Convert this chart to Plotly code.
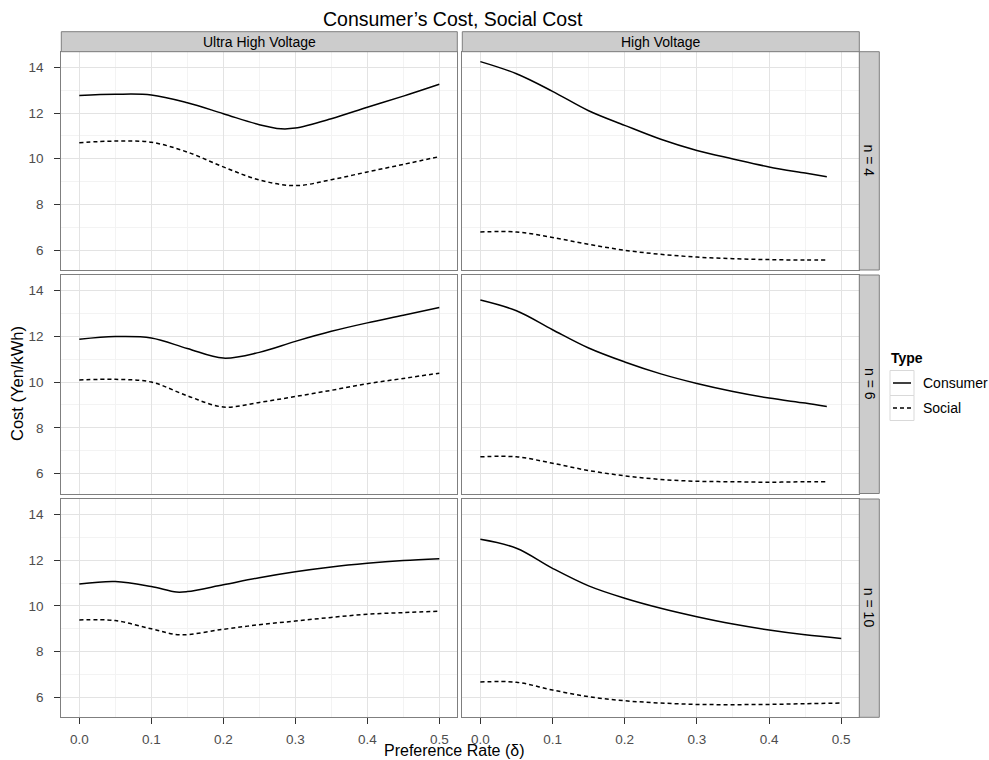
import plotly.graph_objects as go

W, H = 989, 760

# ---------------- data ----------------
voltages = ["Ultra High Voltage", "High Voltage"]
n_labels = ["n = 4", "n = 6", "n = 10"]
types = ["Consumer", "Social"]

x_ticks = [0.0, 0.1, 0.2, 0.3, 0.4, 0.5]
x_tick_text = ["0.0", "0.1", "0.2", "0.3", "0.4", "0.5"]
y_ticks = [6, 8, 10, 12, 14]
y_tick_text = ["6", "8", "10", "12", "14"]

# Ultra High Voltage, n = 4
uhv4_delta_c = [0, 0.05, 0.1, 0.15, 0.2, 0.25, 0.28, 0.3, 0.35, 0.4, 0.45, 0.5]
uhv4_consumer = [12.77, 12.82, 12.79, 12.45, 11.97, 11.49, 11.31, 11.34, 11.75, 12.25, 12.74, 13.26]
uhv4_delta_s = [0, 0.05, 0.1, 0.15, 0.2, 0.25, 0.3, 0.35, 0.4, 0.45, 0.5]
uhv4_social = [10.70, 10.77, 10.72, 10.29, 9.64, 9.07, 8.82, 9.08, 9.42, 9.75, 10.09]

# High Voltage, n = 4
hv4_delta = [0, 0.05, 0.1, 0.15, 0.2, 0.25, 0.3, 0.35, 0.4, 0.45, 0.48]
hv4_consumer = [14.25, 13.72, 12.95, 12.10, 11.46, 10.85, 10.36, 9.99, 9.64, 9.37, 9.21]
hv4_social = [6.79, 6.79, 6.55, 6.25, 5.99, 5.81, 5.69, 5.62, 5.58, 5.56, 5.56]

# Ultra High Voltage, n = 6
uhv6_delta = [0, 0.05, 0.1, 0.15, 0.2, 0.25, 0.3, 0.35, 0.4, 0.45, 0.5]
uhv6_consumer = [11.87, 11.99, 11.93, 11.47, 11.05, 11.30, 11.78, 12.22, 12.59, 12.92, 13.26]
uhv6_social = [10.09, 10.12, 10.00, 9.40, 8.91, 9.11, 9.37, 9.64, 9.93, 10.16, 10.39]

# High Voltage, n = 6
hv6_delta = [0, 0.05, 0.1, 0.15, 0.2, 0.25, 0.3, 0.35, 0.4, 0.45, 0.48]
hv6_consumer = [13.59, 13.12, 12.29, 11.49, 10.88, 10.36, 9.94, 9.59, 9.30, 9.08, 8.93]
hv6_social = [6.73, 6.73, 6.45, 6.13, 5.90, 5.74, 5.66, 5.64, 5.62, 5.64, 5.64]

# Ultra High Voltage, n = 10
uhv10_delta_c = [0, 0.05, 0.1, 0.135, 0.15, 0.2, 0.25, 0.3, 0.35, 0.4, 0.45, 0.5]
uhv10_consumer = [10.96, 11.07, 10.85, 10.61, 10.63, 10.93, 11.24, 11.50, 11.71, 11.87, 11.99, 12.07]
uhv10_delta_s = [0, 0.05, 0.1, 0.14, 0.2, 0.25, 0.3, 0.35, 0.4, 0.45, 0.5]
uhv10_social = [9.39, 9.36, 9.00, 8.74, 8.98, 9.18, 9.34, 9.50, 9.64, 9.71, 9.77]

# High Voltage, n = 10
hv10_delta = [0, 0.05, 0.1, 0.15, 0.2, 0.25, 0.3, 0.35, 0.4, 0.45, 0.5]
hv10_consumer = [12.92, 12.53, 11.65, 10.88, 10.34, 9.90, 9.53, 9.21, 8.95, 8.74, 8.58]
hv10_social = [6.67, 6.66, 6.32, 6.03, 5.85, 5.75, 5.69, 5.68, 5.69, 5.72, 5.75]

panels = {
    (0, 0): [(uhv4_delta_c, uhv4_consumer), (uhv4_delta_s, uhv4_social)],
    (0, 1): [(hv4_delta, hv4_consumer), (hv4_delta, hv4_social)],
    (1, 0): [(uhv6_delta, uhv6_consumer), (uhv6_delta, uhv6_social)],
    (1, 1): [(hv6_delta, hv6_consumer), (hv6_delta, hv6_social)],
    (2, 0): [(uhv10_delta_c, uhv10_consumer), (uhv10_delta_s, uhv10_social)],
    (2, 1): [(hv10_delta, hv10_consumer), (hv10_delta, hv10_social)],
}

# ---------------- layout helpers ----------------
FONT = "Liberation Sans, Arial, Helvetica, sans-serif"
col_px = [(61.3, 457.3), (462.3, 859.3)]
row_px = [(51.7, 270.0), (275.0, 493.5), (499.0, 717.3)]
strip_top = (31.7, 51.7)
strip_right = (859.3, 879.3)


def fx(p):
    return p / W


def fy(p):
    return 1 - p / H


all_x = [v for pl in panels.values() for s in pl for v in s[0]]
all_y = [v for pl in panels.values() for s in pl for v in s[1]]
xmin, xmax = min(all_x), max(all_x)
ymin, ymax = min(all_y), max(all_y)
xr = [xmin - 0.05 * (xmax - xmin), xmax + 0.05 * (xmax - xmin)]
yr = [ymin - 0.05 * (ymax - ymin), ymax + 0.05 * (ymax - ymin)]

dashes = {"Consumer": "solid", "Social": "4px,3px"}

fig = go.Figure()
layout = dict(
    width=W, height=H,
    margin=dict(l=0, r=0, t=0, b=0),
    paper_bgcolor="white", plot_bgcolor="white",
    font=dict(family=FONT, color="#000000"),
    showlegend=False,
)
shapes = []
annotations = []

for (r, c), series in panels.items():
    idx = r * 2 + c + 1
    sfx = "" if idx == 1 else str(idx)
    for t, (xs, ys) in zip(types, series):
        fig.add_trace(go.Scatter(
            x=xs, y=ys, mode="lines", name=t, legendgroup=t,
            line=dict(color="black", width=1.5, dash=dashes[t], shape="spline", smoothing=1.0),
            xaxis="x" + sfx, yaxis="y" + sfx, hoverinfo="skip",
        ))
    bottom = (r == 2)
    left = (c == 0)
    layout["xaxis" + sfx] = dict(
        domain=[fx(col_px[c][0]), fx(col_px[c][1])], range=xr,
        anchor="y" + sfx,
        tickvals=x_ticks, ticktext=x_tick_text,
        showticklabels=bottom, ticks="outside" if bottom else "",
        ticklen=6, tickwidth=1, tickcolor="#333333",
        ticklabelstandoff=3,
        tickfont=dict(size=13.5, color="#4d4d4d", family=FONT),
        showgrid=True, gridcolor="#e3e3e3", gridwidth=1,
        minor=dict(dtick=0.05, tick0=0, showgrid=True, gridcolor="#f3f3f3", gridwidth=1),
        zeroline=False, showline=True, mirror=True, linecolor="#7f7f7f", linewidth=1,
    )
    layout["yaxis" + sfx] = dict(
        domain=[fy(row_px[r][1]), fy(row_px[r][0])], range=yr,
        anchor="x" + sfx,
        tickvals=y_ticks, ticktext=y_tick_text,
        showticklabels=left, ticks="outside" if left else "",
        ticklen=6, tickwidth=1, tickcolor="#333333",
        ticklabelstandoff=8,
        tickfont=dict(size=13.5, color="#4d4d4d", family=FONT),
        showgrid=True, gridcolor="#e3e3e3", gridwidth=1,
        minor=dict(dtick=1, tick0=5, showgrid=True, gridcolor="#f3f3f3", gridwidth=1),
        zeroline=False, showline=True, mirror=True, linecolor="#7f7f7f", linewidth=1,
    )

# top strips
for c, lab in enumerate(voltages):
    shapes.append(dict(type="rect", xref="paper", yref="paper",
                       x0=fx(col_px[c][0]), x1=fx(col_px[c][1]),
                       y0=fy(strip_top[1]), y1=fy(strip_top[0]),
                       fillcolor="#cccccc", line=dict(color="#7f7f7f", width=1), layer="above"))
    annotations.append(dict(text=lab, xref="paper", yref="paper", showarrow=False,
                            x=fx((col_px[c][0] + col_px[c][1]) / 2), y=fy(sum(strip_top) / 2),
                            xanchor="center", yanchor="middle",
                            font=dict(size=14, color="#000000", family=FONT)))
# right strips
for r, lab in enumerate(n_labels):
    shapes.append(dict(type="rect", xref="paper", yref="paper",
                       x0=fx(strip_right[0]), x1=fx(strip_right[1]),
                       y0=fy(row_px[r][1]), y1=fy(row_px[r][0]),
                       fillcolor="#cccccc", line=dict(color="#7f7f7f", width=1), layer="above"))
    annotations.append(dict(text=lab, xref="paper", yref="paper", showarrow=False,
                            x=fx(sum(strip_right) / 2), y=fy(sum(row_px[r]) / 2),
                            xanchor="center", yanchor="middle", textangle=90,
                            font=dict(size=14, color="#000000", family=FONT)))

# titles
annotations.append(dict(text="Consumer’s Cost, Social Cost", xref="paper", yref="paper",
                        showarrow=False, x=fx(453), y=fy(19), xanchor="center", yanchor="middle",
                        font=dict(size=19.5, color="#000000", family=FONT)))
annotations.append(dict(text="Preference Rate (δ)", xref="paper", yref="paper",
                        showarrow=False, x=fx(454), y=fy(750.5), xanchor="center", yanchor="middle",
                        font=dict(size=16, color="#000000", family=FONT)))
annotations.append(dict(text="Cost (Yen/kWh)", xref="paper", yref="paper",
                        showarrow=False, x=fx(17), y=fy(384), xanchor="center", yanchor="middle",
                        textangle=-90, font=dict(size=16.5, color="#000000", family=FONT)))

# legend (ggplot-style key boxes)
leg_x0, leg_x1 = 890, 914
key_tops = [370.5, 395.5]
key_h = 25
annotations.append(dict(text="<b>Type</b>", xref="paper", yref="paper", showarrow=False,
                        x=fx(leg_x0 - 1), y=fy(358), xanchor="left", yanchor="middle",
                        font=dict(size=14, color="#000000", family=FONT)))
for t, top in zip(types, key_tops):
    yc = top + key_h / 2
    shapes.append(dict(type="rect", xref="paper", yref="paper",
                       x0=fx(leg_x0), x1=fx(leg_x1), y0=fy(top + key_h), y1=fy(top),
                       fillcolor="white", line=dict(color="#d9d9d9", width=1)))
    shapes.append(dict(type="line", xref="paper", yref="paper",
                       x0=fx(leg_x0 + 3), x1=fx(leg_x1 - 3), y0=fy(yc), y1=fy(yc),
                       line=dict(color="black", width=1.5, dash=dashes[t])))
    annotations.append(dict(text=t, xref="paper", yref="paper", showarrow=False,
                            x=fx(leg_x1 + 7), y=fy(yc), xanchor="left", yanchor="middle",
                            font=dict(size=14, color="#000000", family=FONT)))

layout["shapes"] = shapes
layout["annotations"] = annotations
fig.update_layout(**layout)
fig.write_html("out.html")
